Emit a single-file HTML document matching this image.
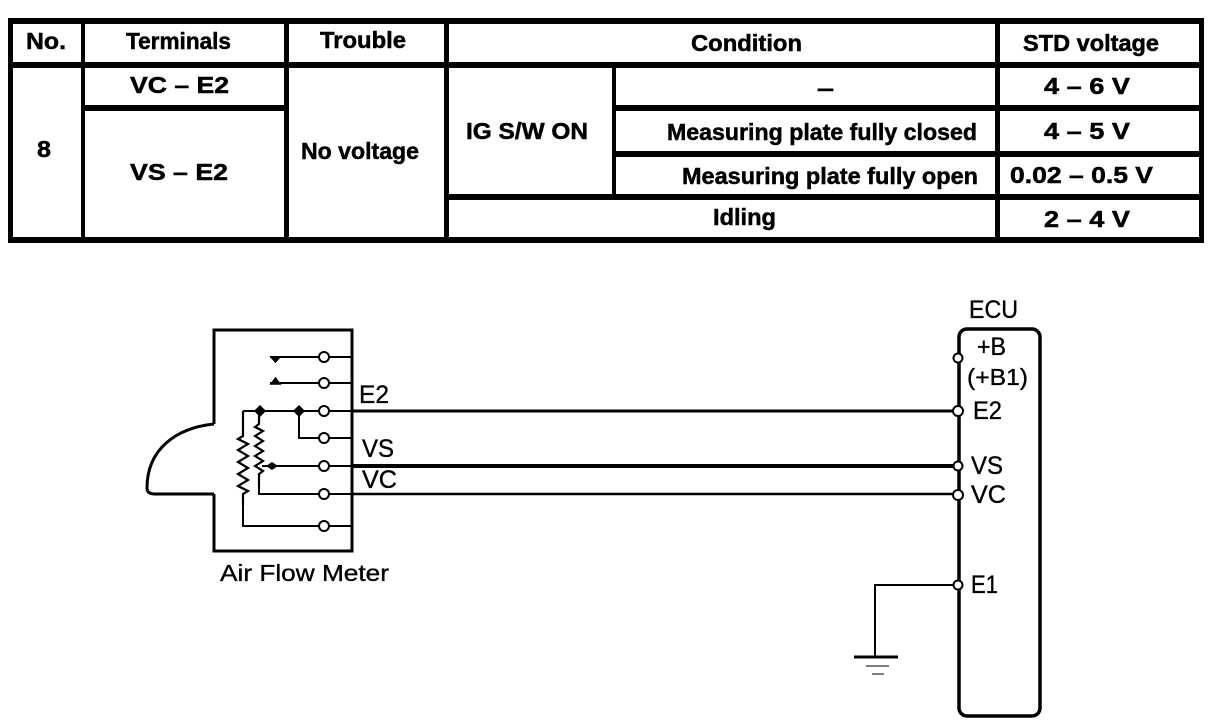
<!DOCTYPE html>
<html><head><meta charset="utf-8"><style>
html,body{margin:0;padding:0;background:#fff;width:1216px;height:724px;overflow:hidden}
svg{display:block}
text{font-family:"Liberation Sans",sans-serif;fill:#000}
.b{font-weight:bold;font-size:23px;stroke:#000;stroke-width:.5px}
.n{font-size:25px;stroke:#000;stroke-width:.35px}
</style></head><body>
<svg width="1216" height="724" viewBox="0 0 1216 724" xmlns="http://www.w3.org/2000/svg">
<g fill="#000">
<rect x="8" y="18" width="1196" height="6"/>
<rect x="8" y="62" width="1196" height="6"/>
<rect x="8" y="237" width="1196" height="6"/>
<rect x="8" y="18" width="5" height="225"/>
<rect x="1199" y="18" width="5" height="225"/>
<rect x="81" y="18" width="4" height="225"/>
<rect x="284" y="18" width="5" height="225"/>
<rect x="444" y="18" width="5" height="225"/>
<rect x="995" y="18" width="5" height="225"/>
<rect x="612" y="62" width="4" height="133"/>
<rect x="85" y="105" width="200" height="6"/>
<rect x="612" y="105" width="588" height="6"/>
<rect x="612" y="151" width="588" height="6"/>
<rect x="445" y="194" width="755" height="6"/>
</g>
<g class="b">
<text class="b" x="26" y="49" textLength="40" lengthAdjust="spacingAndGlyphs">No.</text>
<text class="b" x="126" y="49" textLength="105" lengthAdjust="spacingAndGlyphs">Terminals</text>
<text class="b" x="320" y="48" textLength="86" lengthAdjust="spacingAndGlyphs">Trouble</text>
<text class="b" x="691" y="51" textLength="111" lengthAdjust="spacingAndGlyphs">Condition</text>
<text class="b" x="1023" y="51" textLength="136" lengthAdjust="spacingAndGlyphs">STD voltage</text>
<text class="b" x="130" y="93" textLength="99" lengthAdjust="spacingAndGlyphs">VC – E2</text>
<text class="b" x="130" y="180" textLength="98" lengthAdjust="spacingAndGlyphs">VS – E2</text>
<text class="b" x="37" y="157" textLength="14" lengthAdjust="spacingAndGlyphs">8</text>
<text class="b" x="301" y="159" textLength="118" lengthAdjust="spacingAndGlyphs">No voltage</text>
<text class="b" x="466" y="139" textLength="122" lengthAdjust="spacingAndGlyphs">IG S/W ON</text>
<text class="b" x="817" y="96" textLength="17" lengthAdjust="spacingAndGlyphs">–</text>
<text class="b" x="667" y="140" textLength="310" lengthAdjust="spacingAndGlyphs">Measuring plate fully closed</text>
<text class="b" x="682" y="184" textLength="296" lengthAdjust="spacingAndGlyphs">Measuring plate fully open</text>
<text class="b" x="713" y="225" textLength="63" lengthAdjust="spacingAndGlyphs">Idling</text>
<text class="b" x="1044" y="94" textLength="86" lengthAdjust="spacingAndGlyphs">4 – 6 V</text>
<text class="b" x="1044" y="139" textLength="86" lengthAdjust="spacingAndGlyphs">4 – 5 V</text>
<text class="b" x="1010" y="183" textLength="143" lengthAdjust="spacingAndGlyphs">0.02 – 0.5 V</text>
<text class="b" x="1044" y="227" textLength="86" lengthAdjust="spacingAndGlyphs">2 – 4 V</text>
</g>
<g fill="none" stroke="#000" stroke-width="2">
<path d="M214 424V330H352V551H214V494" stroke-width="3"/>
<path d="M214 424C175 428 147 450 147 488Q147 494 155 494H214" stroke-width="3"/>
<path d="M352 330V551" stroke-width="3"/>
<path d="M270 357H352M270 383H352M243 411H352M299 411V438H352M262 466H352M259 484V494H352M243 499V526H352"/>
<path d="M243 411V436l-5 3 10 5-10 6 10 6-10 6 10 6-10 6 10 6-10 6 10 5-5 3V505" stroke-width="2.2"/>
<path d="M259 411V424l-4 3 8 4-8 5 8 5-8 5 8 5-8 5 8 5-8 5 8 5-4 3V486" stroke-width="2.2"/>
<path d="M352 411H958" stroke-width="3"/>
<path d="M352 466H958" stroke-width="4"/>
<path d="M352 494H958" stroke-width="2.5"/>
<path d="M958 585H875V657" stroke-width="2"/>
<path d="M854 657H898" stroke-width="3"/>
<path d="M866 666H889" stroke-width="1"/>
<path d="M872 674H884" stroke-width="1"/>
<rect x="959" y="329" width="81" height="387" rx="8" stroke-width="3.5"/>
</g>
<g fill="#000">
<path d="M271 357H280L275.500 362Z" stroke="#000" stroke-width="1.500"/>
<path d="M271 384H280L275.500 378Z" stroke="#000" stroke-width="1.500"/>
<path d="M260 405l6 6-6 6-6-6Z"/>
<path d="M299 405l6 6-6 6-6-6Z"/>
<path d="M266 466l6-4 6 4-6 4Z"/>
</g>
<g fill="#fff" stroke="#000" stroke-width="2">
<circle cx="324" cy="357" r="5"/><circle cx="324" cy="383" r="5"/><circle cx="324" cy="411" r="5"/>
<circle cx="324" cy="438" r="5"/><circle cx="324" cy="466" r="5"/><circle cx="324" cy="494" r="5"/>
<circle cx="324" cy="526" r="5"/>
<circle cx="958" cy="358" r="4.5"/><circle cx="958" cy="411" r="5"/><circle cx="958" cy="466" r="4.5"/>
<circle cx="958" cy="495" r="5"/><circle cx="958" cy="585" r="4.5"/>
</g>
<g>
<text class="n" x="359" y="403" textLength="30" lengthAdjust="spacingAndGlyphs">E2</text>
<text class="n" x="362" y="457" textLength="32" lengthAdjust="spacingAndGlyphs">VS</text>
<text class="n" x="362" y="488" textLength="35" lengthAdjust="spacingAndGlyphs">VC</text>
<text class="n" x="220" y="581" textLength="169" lengthAdjust="spacingAndGlyphs" style="font-size:23px">Air Flow Meter</text>
<text class="n" x="969" y="318" textLength="49" lengthAdjust="spacingAndGlyphs">ECU</text>
<text class="n" x="977" y="355" textLength="29" lengthAdjust="spacingAndGlyphs">+B</text>
<text class="n" x="967" y="385" textLength="61" lengthAdjust="spacingAndGlyphs" style="font-size:23px">(+B1)</text>
<text class="n" x="973" y="419" textLength="29" lengthAdjust="spacingAndGlyphs">E2</text>
<text class="n" x="971" y="474" textLength="32" lengthAdjust="spacingAndGlyphs">VS</text>
<text class="n" x="971" y="503" textLength="35" lengthAdjust="spacingAndGlyphs">VC</text>
<text class="n" x="971" y="593" textLength="27" lengthAdjust="spacingAndGlyphs">E1</text>
</g>
</svg>
</body></html>
